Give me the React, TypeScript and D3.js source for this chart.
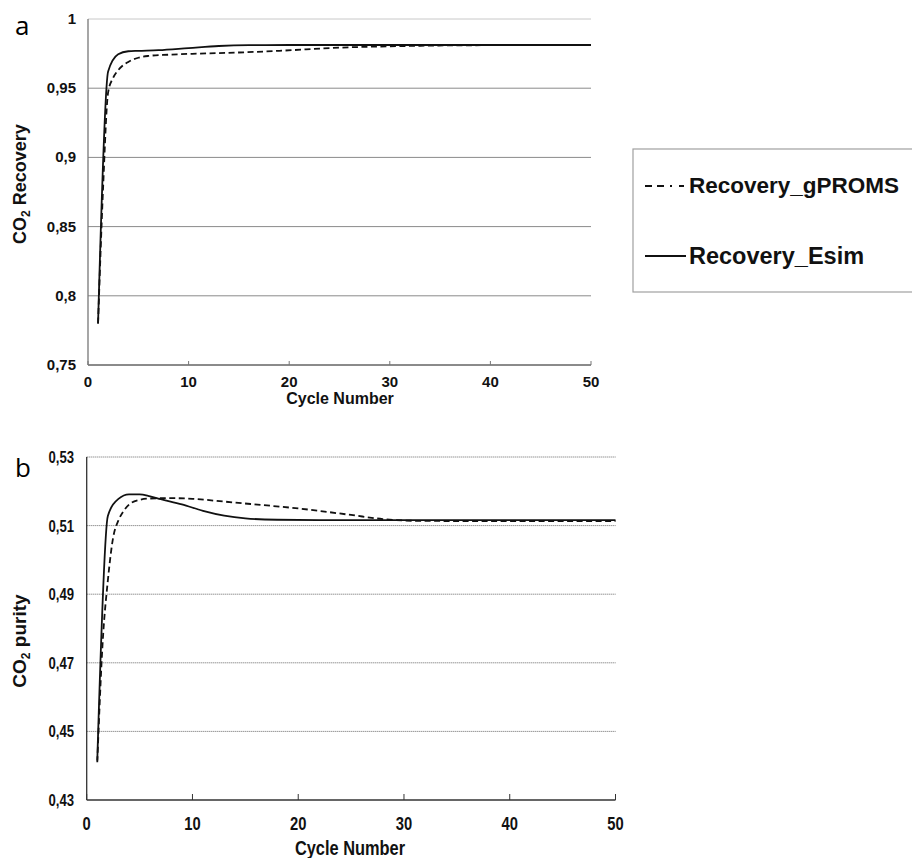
import React from "react";
import * as d3 from "d3";

// Panel a: CO2 recovery per cycle
const recoveryEsimCycles = [1, 2, 3, 4, 5, 7, 10, 13, 16, 20, 25, 30, 35, 40, 45, 50];
const recoveryEsim = [0.78, 0.962, 0.9745, 0.9767, 0.977, 0.9775, 0.979, 0.9805, 0.9811, 0.9812, 0.9812, 0.9812, 0.9812, 0.9812, 0.9812, 0.9812];
const recoveryGpromsCycles = [1, 1.5, 2, 2.5, 3, 4, 5, 6, 8, 11, 15, 19, 25, 31, 37, 50];
const recoveryGproms = [0.78, 0.878, 0.947, 0.9575, 0.963, 0.969, 0.972, 0.9733, 0.9742, 0.975, 0.9758, 0.977, 0.9793, 0.9804, 0.981, 0.9812];

// Panel b: CO2 purity per cycle
const purityEsimCycles = [1, 2, 3, 4, 5, 6, 7, 9, 11, 13, 15, 18, 22, 30, 40, 50];
const purityEsim = [0.4415, 0.5128, 0.5178, 0.5191, 0.5191, 0.5185, 0.5177, 0.5162, 0.5143, 0.5129, 0.5121, 0.5117, 0.5116, 0.5116, 0.5116, 0.5116];
const purityGpromsCycles = [1, 1.5, 2, 2.5, 3, 3.5, 4, 5, 6, 8, 10, 13, 15.5, 20, 25, 28, 31, 40, 50];
const purityGproms = [0.441, 0.4755, 0.494, 0.5065, 0.5115, 0.5143, 0.5161, 0.5175, 0.5179, 0.518, 0.5178, 0.517, 0.5163, 0.515, 0.5131, 0.5119, 0.5114, 0.5113, 0.5113];

const xTicks = [0, 10, 20, 30, 40, 50];
const recoveryTicks = [0.75, 0.8, 0.85, 0.9, 0.95, 1];
const purityTicks = [0.43, 0.45, 0.47, 0.49, 0.51, 0.53];
const legendLabels = ["Recovery_gPROMS", "Recovery_Esim"];

const fmt = (v: number) => String(+v.toFixed(2)).replace(".", ",");
const bold = "'Liberation Sans', Arial, sans-serif";
const NARROW = 0.82;

function pairs(xs: number[], ys: number[]): [number, number][] {
  return xs.map((x, i) => [x, ys[i]]);
}

// Condensed bold text: regular bold face squeezed horizontally
function NarrowText(props: { x: number; y: number; size: number; anchor?: string; children: React.ReactNode }) {
  return (
    <text
      transform={`translate(${props.x},${props.y}) scale(${NARROW},1)`}
      textAnchor={props.anchor || "start"}
      fontFamily={bold}
      fontWeight="bold"
      fontSize={props.size}
      fill="#111"
    >
      {props.children}
    </text>
  );
}

export default function App() {
  // scales for panel a
  const xa = d3.scaleLinear().domain([0, 50]).range([88, 591]);
  const ya = d3.scaleLinear().domain([0.75, 1]).range([365, 19]);
  // scales for panel b
  const xb = d3.scaleLinear().domain([0, 50]).range([86.7, 615.5]);
  const yb = d3.scaleLinear().domain([0.43, 0.53]).range([800, 457]);

  const lineA = d3.line<[number, number]>().x(d => xa(d[0])).y(d => ya(d[1])).curve(d3.curveMonotoneX);
  const lineB = d3.line<[number, number]>().x(d => xb(d[0])).y(d => yb(d[1])).curve(d3.curveMonotoneX);

  return (
    <svg width={912} height={858} style={{ position: "absolute", left: 0, top: 0, background: "#fff" }}>
      <rect x={0} y={0} width={912} height={858} fill="#fff" />

      {/* ---------- panel a ---------- */}
      <text x={15} y={35} fontFamily="'Open Sans', sans-serif" fontSize={26}>a</text>
      {recoveryTicks.map(t => (
        <g key={"ga" + t}>
          <line x1={xa(0)} x2={xa(50)} y1={ya(t)} y2={ya(t)} stroke={t === 1 ? "#c8c8c8" : "#8a8a8a"} strokeWidth={1} />
          <text x={76} y={ya(t) + 5} textAnchor="end" fontFamily={bold} fontWeight="bold" fontSize={15} fill="#111">{fmt(t)}</text>
        </g>
      ))}
      <line x1={xa(0)} x2={xa(0)} y1={ya(1)} y2={ya(0.75)} stroke="#777" strokeWidth={1.3} />
      <line x1={xa(0)} x2={xa(50)} y1={ya(0.75)} y2={ya(0.75)} stroke="#777" strokeWidth={1.3} />
      {xTicks.map(t => (
        <g key={"xa" + t}>
          <line x1={xa(t)} x2={xa(t)} y1={ya(0.75)} y2={ya(0.75) - 4} stroke="#777" />
          <text x={xa(t)} y={387} textAnchor="middle" fontFamily={bold} fontWeight="bold" fontSize={15} fill="#111">{t}</text>
        </g>
      ))}
      <text x={340} y={404} textAnchor="middle" fontFamily={bold} fontWeight="bold" fontSize={16} fill="#111">Cycle Number</text>
      <text transform="translate(26,184) rotate(-90)" textAnchor="middle" fontFamily={bold} fontWeight="bold" fontSize={18} fill="#111">
        CO<tspan fontSize={12} dy={4}>2</tspan><tspan dy={-4}>{"  Recovery"}</tspan>
      </text>
      <path d={lineA(pairs(recoveryGpromsCycles, recoveryGproms)) || ""} fill="none" stroke="#111" strokeWidth={1.8} strokeDasharray="6,3.5" />
      <path d={lineA(pairs(recoveryEsimCycles, recoveryEsim)) || ""} fill="none" stroke="#111" strokeWidth={1.8} />

      {/* legend */}
      <rect x={633} y={149} width={300} height={143} fill="#fff" stroke="#a0a0a0" strokeWidth={1.2} />
      <line x1={645} x2={686} y1={186} y2={186} stroke="#111" strokeWidth={2} strokeDasharray="7,5,7,6,2" />
      <text x={689} y={193} fontFamily={bold} fontWeight="bold" fontSize={22.5} fill="#111">{legendLabels[0]}</text>
      <line x1={645} x2={686} y1={256} y2={256} stroke="#111" strokeWidth={2} />
      <text x={689} y={264} fontFamily={bold} fontWeight="bold" fontSize={23.5} fill="#111">{legendLabels[1]}</text>

      {/* ---------- panel b ---------- */}
      <text x={15} y={477} fontFamily="'Open Sans', sans-serif" fontSize={26}>b</text>
      {purityTicks.map(t => (
        <g key={"gb" + t}>
          {t !== 0.43 && (
            <line x1={xb(0)} x2={xb(50)} y1={yb(t)} y2={yb(t)} stroke="#666" strokeWidth={1} strokeDasharray="1,1" />
          )}
          <NarrowText x={74} y={yb(t) + 6} size={16} anchor="end">{fmt(t)}</NarrowText>
        </g>
      ))}
      <line x1={xb(0)} x2={xb(0)} y1={yb(0.53)} y2={yb(0.43)} stroke="#333" strokeWidth={1.3} />
      <line x1={xb(0)} x2={xb(50)} y1={yb(0.43)} y2={yb(0.43)} stroke="#333" strokeWidth={1.3} />
      {xTicks.map(t => (
        <g key={"xb" + t}>
          <line x1={xb(t)} x2={xb(t)} y1={yb(0.43)} y2={yb(0.43) - 6} stroke="#333" />
          <NarrowText x={xb(t)} y={830} size={18} anchor="middle">{t}</NarrowText>
        </g>
      ))}
      <NarrowText x={350} y={855} size={20} anchor="middle">Cycle Number</NarrowText>
      <text transform="translate(26,641) rotate(-90)" textAnchor="middle" fontFamily={bold} fontWeight="bold" fontSize={19} fill="#111">
        CO<tspan fontSize={12} dy={4}>2</tspan><tspan dy={-4}>{" purity"}</tspan>
      </text>
      <path d={lineB(pairs(purityGpromsCycles, purityGproms)) || ""} fill="none" stroke="#111" strokeWidth={1.8} strokeDasharray="6,3.5" />
      <path d={lineB(pairs(purityEsimCycles, purityEsim)) || ""} fill="none" stroke="#111" strokeWidth={1.8} />
    </svg>
  );
}
